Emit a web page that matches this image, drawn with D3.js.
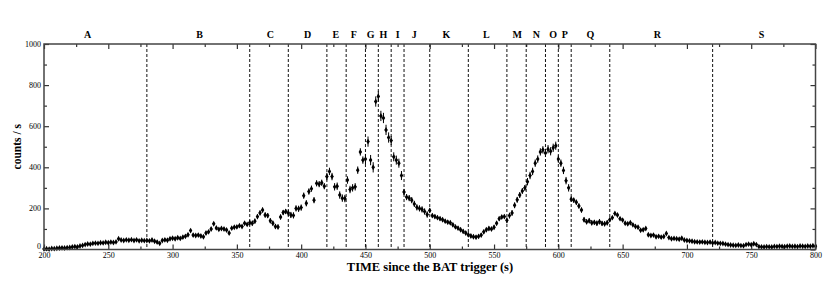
<!DOCTYPE html>
<html lang="en">
<head>
<meta charset="UTF-8">
<title>BAT light curve</title>
<script src="https://d3js.org/d3.v7.min.js"></script>
<style>
  body { margin: 0; background: #fff; }
  svg text { font-family: "Liberation Serif", "DejaVu Serif", serif; fill: #000; }
  .tick text { font-size: 8px; fill: #000; }
  .tick line { stroke: #333; stroke-width: 1.2px; }
  .domain { display: none; }
  .frame { fill: none; stroke: #444; stroke-width: 1.5px; }
  .sep { stroke: #111; stroke-width: 1px; stroke-dasharray: 3,2; }
  .bar { stroke: #000; stroke-width: 1px; }
  .pt { fill: #000; }
  .seg { font-size: 10px; font-weight: bold; text-anchor: middle; }
  .title { font-size: 12.5px; font-weight: bold; text-anchor: middle; }
</style>
</head>
<body>
<script>
// light curve: one bin every 2 s starting at 200 s
const binStart = 200, binWidth = 2;
const counts = [
  3, 4, 2, 5, 4,        6, 7, 8, 7, 9,
  10, 12, 14, 13, 17,   20, 24, 27, 26, 30,
  31, 30, 33, 32, 35,   33, 36, 34, 37, 52,
  46, 44, 47, 45, 48,   44, 47, 42, 45, 43,
  44, 42, 46, 40, 36,   30, 44, 47, 45, 52,
  55, 52, 57, 54, 60,   64, 72, 92, 70, 68,
  70, 66, 62, 80, 86,   100, 125, 105, 98, 102,
  100, 95, 80, 104, 108, 110, 116, 112, 128, 122,
  130, 128, 138, 160, 178, 192, 168, 165, 140, 128,
  112, 110, 158, 180, 185, 178, 168, 166, 200, 198,
  204, 262, 225, 282, 296, 240, 322, 318, 325, 308,
  355, 380, 355, 305, 308, 265, 250, 248, 338, 292,
  300, 305, 386, 475, 435, 440, 525, 435, 400, 720,
  745, 650, 640, 582, 545, 530, 451, 435, 420, 360,
  280, 255, 250, 240, 222, 205, 200, 195, 185, 170,
  190, 165, 160, 155, 150, 145, 138, 133, 130, 120,
  110, 104, 96, 88, 80,  72, 66, 62, 60, 64,
  70, 86, 96, 102, 100,  108, 128, 150, 158, 160,
  142, 165, 178, 215, 242, 265, 285, 300, 330, 360,
  380, 420, 440, 475, 485, 470, 488, 478, 495, 505,
  440, 420, 385, 335, 300, 245, 240, 230, 212, 192,
  145, 135, 140, 130, 132, 128, 135, 127, 125, 130,
  145, 155, 175, 168, 150, 143, 128, 125, 130, 120,
  112, 108, 94, 96, 102,  72, 68, 70, 62, 64,
  60, 63, 78, 58, 52,   54, 52, 50, 55, 46,
  44, 42, 40, 38, 37,   36, 37, 35, 34, 36,
  32, 34, 31, 30, 29,   26, 24, 22, 21, 20,
  22, 19, 18, 24, 26,   23, 28, 24, 14, 13,
  12, 14, 13, 12, 15,   14, 16, 15, 14, 16,
  17, 15, 16, 14, 17,   16, 15, 17, 16, 18,
  16
];

// interval boundaries (dashed lines) and names
const boundaries = [280, 360, 390, 420, 435, 450, 460, 470, 480, 500, 530, 560, 575, 590, 600, 610, 640, 720];
const segNames = ["A","B","C","D","E","F","G","H","I","J","K","L","M","N","O","P","Q","R","S"];
const segLabelAt = [234, 321, 376, 405, 427, 441, 454, 464, 475, 488, 513, 544, 568, 583, 596, 605, 625, 677, 758];
// typical error bar (counts/s) in each interval
const segErrors = [5, 8, 12, 15, 18, 18, 25, 25, 22, 15, 10, 10, 14, 18, 20, 18, 12, 8, 5];

const xMajor = [200, 250, 300, 350, 400, 450, 500, 550, 600, 650, 700, 750, 800];
const xMinor = [225, 275, 325, 375, 425, 475, 525, 575, 625, 675, 725, 775];
const yMajor = [0, 200, 400, 600, 800, 1000];
const yMinor = [100, 300, 500, 700, 900];

const W = 830, H = 294;
const mLeft = 44, mRight = 815.5, mTop = 44, mBottom = 249.5;

const x = d3.scaleLinear().domain([200, 800]).range([mLeft, mRight]);
const y = d3.scaleLinear().domain([0, 1000]).range([mBottom, mTop]);

const svg = d3.select("body").append("svg")
  .attr("width", W).attr("height", H);

// axes (ticks point inward)
svg.append("g").attr("transform", `translate(0,${mBottom})`)
  .call(d3.axisBottom(x).tickValues(xMajor).tickSize(-5).tickSizeOuter(0).tickPadding(2.5).tickFormat(d3.format("d")));
svg.append("g").attr("transform", `translate(0,${mBottom})`)
  .call(d3.axisBottom(x).tickValues(xMinor).tickSize(-3).tickSizeOuter(0).tickFormat(""));
svg.append("g").attr("transform", `translate(0,${mTop})`)
  .call(d3.axisTop(x).tickValues(xMajor).tickSize(-5).tickSizeOuter(0).tickFormat(""));
svg.append("g").attr("transform", `translate(0,${mTop})`)
  .call(d3.axisTop(x).tickValues(xMinor).tickSize(-3).tickSizeOuter(0).tickFormat(""));
svg.append("g").attr("transform", `translate(${mLeft},0)`)
  .call(d3.axisLeft(y).tickValues(yMajor).tickSize(-5).tickSizeOuter(0).tickPadding(3).tickFormat(d3.format("d")))
  .selectAll("text").attr("dy", d => d === 0 ? "-0.1em" : "0.32em");
svg.append("g").attr("transform", `translate(${mLeft},0)`)
  .call(d3.axisLeft(y).tickValues(yMinor).tickSize(-3).tickSizeOuter(0).tickFormat(""));
svg.append("g").attr("transform", `translate(${mRight},0)`)
  .call(d3.axisRight(y).tickValues(yMajor).tickSize(-5).tickSizeOuter(0).tickFormat(""));
svg.append("g").attr("transform", `translate(${mRight},0)`)
  .call(d3.axisRight(y).tickValues(yMinor).tickSize(-3).tickSizeOuter(0).tickFormat(""));

// dashed interval separators
svg.selectAll(".sep").data(boundaries).enter().append("line")
  .attr("class", "sep")
  .attr("x1", d => x(d)).attr("x2", d => x(d))
  .attr("y1", mTop).attr("y2", mBottom);

// interval names
svg.selectAll(".seg").data(segNames).enter().append("text")
  .attr("class", "seg")
  .attr("x", (d, i) => x(segLabelAt[i]))
  .attr("y", 38)
  .text(d => d);

// data points with error bars
const pts = counts.map((c, i) => {
  const t = binStart + i * binWidth;
  let s = d3.bisectRight(boundaries, t);
  return { t, c, e: segErrors[Math.min(s, segErrors.length - 1)] };
});

const g = svg.append("g");
g.selectAll(".ebar").data(pts).enter().append("line")
  .attr("class", "bar")
  .attr("x1", d => x(d.t)).attr("x2", d => x(d.t))
  .attr("y1", d => y(Math.max(0, d.c - d.e))).attr("y2", d => y(d.c + d.e));
g.selectAll(".hbar").data(pts).enter().append("line")
  .attr("class", "bar")
  .attr("x1", d => x(d.t - binWidth / 2)).attr("x2", d => x(d.t + binWidth / 2))
  .attr("y1", d => y(d.c)).attr("y2", d => y(d.c));
g.selectAll(".pt").data(pts).enter().append("path")
  .attr("class", "pt")
  .attr("transform", d => `translate(${x(d.t)},${y(d.c)})`)
  .attr("d", d3.symbol(d3.symbolDiamond, 10));

// frame
svg.append("rect").attr("class", "frame")
  .attr("x", mLeft).attr("y", mTop)
  .attr("width", mRight - mLeft).attr("height", mBottom - mTop);

// titles
svg.append("text").attr("class", "title")
  .attr("x", 430).attr("y", 271)
  .text("TIME since the BAT trigger (s)");
svg.append("text").attr("class", "title")
  .style("font-size", "11.5px")
  .attr("transform", `translate(21,${(mTop + mBottom) / 2}) rotate(-90)`)
  .text("counts / s");
</script>
</body>
</html>
